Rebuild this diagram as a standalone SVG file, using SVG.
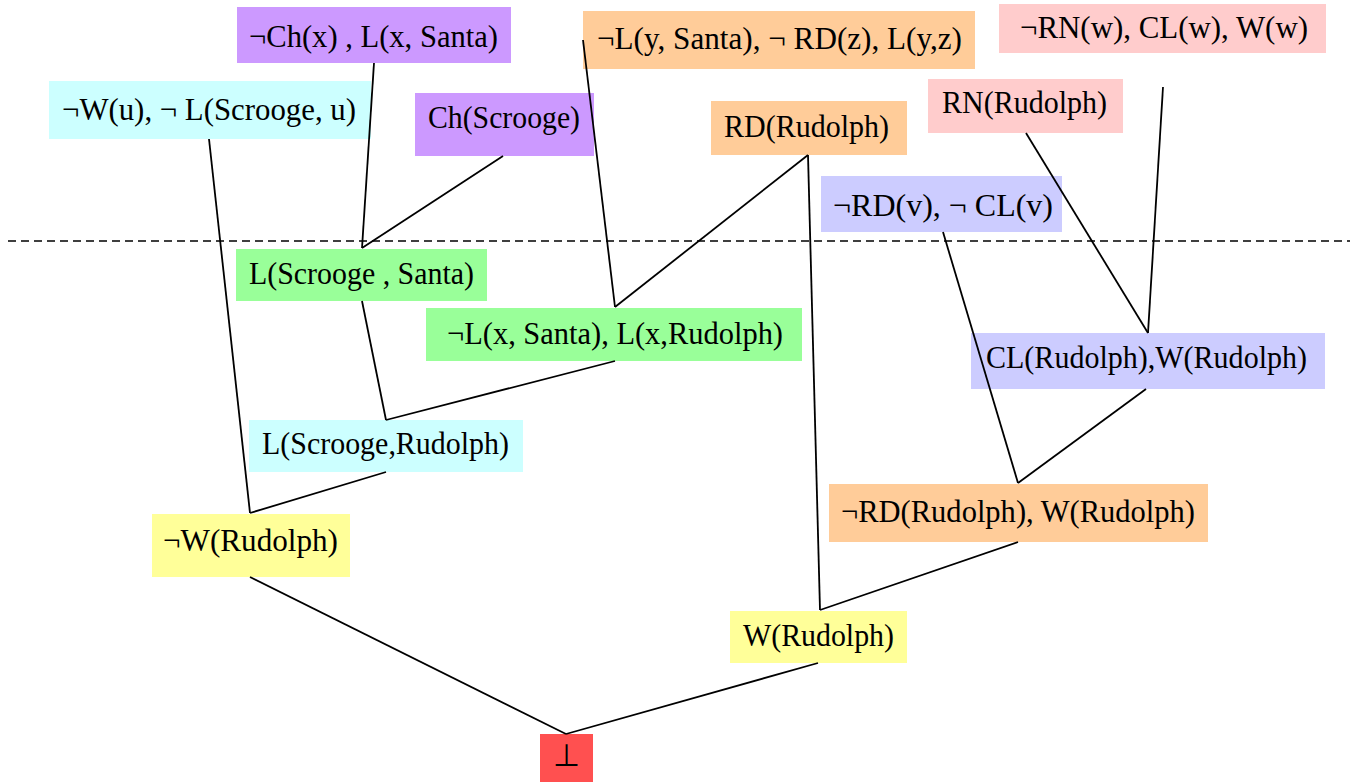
<svg xmlns="http://www.w3.org/2000/svg" width="1355" height="782" viewBox="0 0 1355 782">
<style>
text{font-family:"Liberation Serif","Times New Roman",serif;font-size:31px;fill:#000}
.c line{stroke:#000;stroke-width:1.8;fill:none}
.dash{stroke:#000;stroke-width:1.5;stroke-dasharray:8,5}
.pu{fill:#CC99FF}.cy{fill:#CCFFFF}.or{fill:#FFCC99}.pk{fill:#FFCCCC}.lv{fill:#CCCCFF}.gr{fill:#99FF99}.ye{fill:#FFFF99}.rd{fill:#FF5050}
</style>
<rect width="1355" height="782" fill="#fff"/>
<line class="dash" x1="8" y1="241" x2="1350" y2="241"/>
<g id="n1"><rect class="pu" x="237" y="7" width="274" height="56"/><text x="249" y="47" textLength="249" lengthAdjust="spacingAndGlyphs">¬Ch(x) , L(x, Santa)</text></g>
<g id="n2"><rect class="cy" x="49" y="81" width="322" height="58"/><text x="62" y="120" textLength="294" lengthAdjust="spacingAndGlyphs">¬W(u), ¬ L(Scrooge, u)</text></g>
<g id="n3"><rect class="pu" x="415" y="93" width="179" height="63"/><text x="428" y="128" textLength="152" lengthAdjust="spacingAndGlyphs">Ch(Scrooge)</text></g>
<g id="n4"><rect class="or" x="583" y="11" width="392" height="58"/><text x="597" y="49" textLength="365" lengthAdjust="spacingAndGlyphs">¬L(y, Santa), ¬ RD(z), L(y,z)</text></g>
<g id="n5"><rect class="pk" x="999" y="4" width="327" height="49"/><text x="1020" y="38" textLength="288" lengthAdjust="spacingAndGlyphs">¬RN(w), CL(w), W(w)</text></g>
<g id="n6"><rect class="pk" x="928" y="79" width="195" height="54"/><text x="942" y="113" textLength="165" lengthAdjust="spacingAndGlyphs">RN(Rudolph)</text></g>
<g id="n7"><rect class="or" x="711" y="101" width="196" height="54"/><text x="724" y="137" textLength="165" lengthAdjust="spacingAndGlyphs">RD(Rudolph)</text></g>
<g id="n8"><rect class="lv" x="821" y="176" width="241" height="56"/><text x="833" y="216" textLength="220" lengthAdjust="spacingAndGlyphs">¬RD(v), ¬ CL(v)</text></g>
<g id="n9"><rect class="gr" x="236" y="249" width="251" height="52"/><text x="249" y="284" textLength="225" lengthAdjust="spacingAndGlyphs">L(Scrooge , Santa)</text></g>
<g id="n10"><rect class="gr" x="426" y="308" width="376" height="53"/><text x="447" y="344" textLength="336" lengthAdjust="spacingAndGlyphs">¬L(x, Santa), L(x,Rudolph)</text></g>
<g id="n11"><rect class="lv" x="971" y="333" width="354" height="56"/><text x="986" y="368" textLength="321" lengthAdjust="spacingAndGlyphs">CL(Rudolph),W(Rudolph)</text></g>
<g id="n12"><rect class="cy" x="249" y="420" width="274" height="52"/><text x="262" y="454" textLength="247" lengthAdjust="spacingAndGlyphs">L(Scrooge,Rudolph)</text></g>
<g id="n13"><rect class="ye" x="152" y="514" width="198" height="63"/><text x="163" y="551" textLength="175" lengthAdjust="spacingAndGlyphs">¬W(Rudolph)</text></g>
<g id="n14"><rect class="or" x="829" y="484" width="379" height="58"/><text x="841" y="522" textLength="354" lengthAdjust="spacingAndGlyphs">¬RD(Rudolph), W(Rudolph)</text></g>
<g id="n15"><rect class="ye" x="730" y="611" width="177" height="52"/><text x="743" y="646" textLength="151" lengthAdjust="spacingAndGlyphs">W(Rudolph)</text></g>
<g id="n16"><rect class="rd" x="540" y="734" width="53" height="48"/><text x="566" y="766" text-anchor="middle">⊥</text></g>
<g id="connectors" class="c">
<line x1="374" y1="63" x2="362" y2="248"/>
<line x1="503" y1="156" x2="362" y2="248"/>
<line x1="209" y1="139" x2="250" y2="513"/>
<line x1="583" y1="40" x2="615" y2="307"/>
<line x1="808" y1="155" x2="615" y2="307"/>
<line x1="808" y1="155" x2="820" y2="610"/>
<line x1="1026" y1="133" x2="1148" y2="333"/>
<line x1="1163" y1="87" x2="1148" y2="333"/>
<line x1="943" y1="232" x2="1018" y2="483"/>
<line x1="1146" y1="389" x2="1018" y2="483"/>
<line x1="362" y1="301" x2="386" y2="420"/>
<line x1="615" y1="361" x2="386" y2="420"/>
<line x1="386" y1="472" x2="250" y2="513"/>
<line x1="1018" y1="542" x2="820" y2="610"/>
<line x1="250" y1="577" x2="566" y2="734"/>
<line x1="818" y1="663" x2="566" y2="734"/>
</g>
</svg>
